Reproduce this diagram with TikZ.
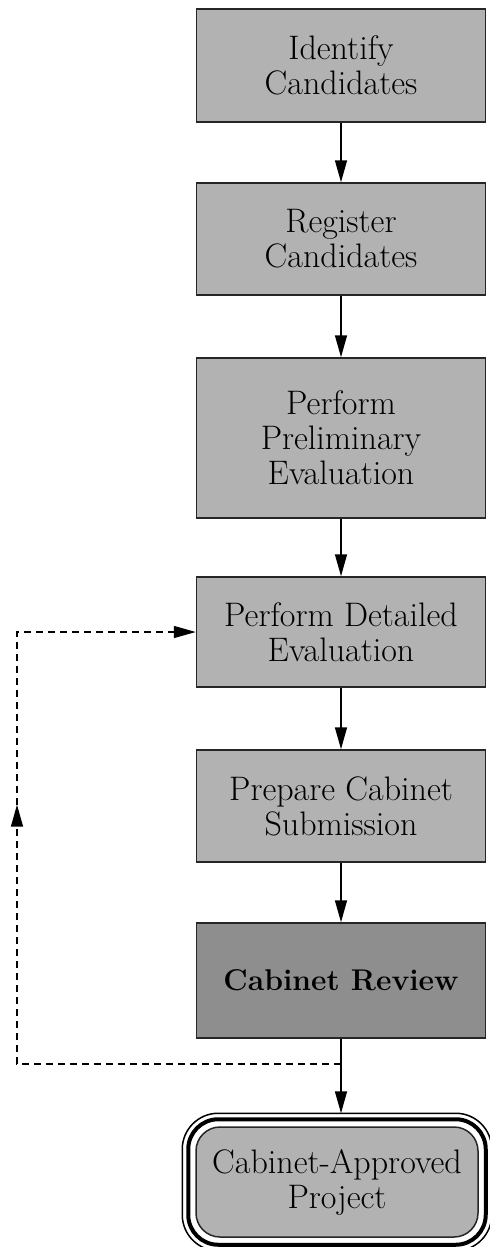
\documentclass[tikz,border=0pt]{standalone}
\usepackage{tikz}
\usetikzlibrary{arrows.meta,calc}
\definecolor{boxfill}{RGB}{178,178,178}
\definecolor{reviewfill}{RGB}{142,142,142}

\begin{document}
\begin{tikzpicture}[x=0.5pt,y=-0.5pt,font=\fontsize{17}{17.5}\selectfont,
    stepbox/.style={draw=black!85,line width=0.75pt,fill=boxfill,
      minimum width=144.5pt,align=center,inner sep=2pt},
    reviewbox/.style={stepbox,fill=reviewfill,
      font=\fontsize{15}{15}\selectfont\bfseries},
    endbox/.style={stepbox,rounded corners=12pt,minimum width=141pt,
      minimum height=55pt},
    flowarrow/.style={line width=0.75pt,-{Triangle[length=11pt,width=6pt]}},
    loopline/.style={line width=0.75pt,dash pattern=on 3.5pt off 2.5pt}]

  \useasboundingbox (0,0) rectangle (489,1247);

  %,  Process steps, 
  \foreach \nm/\st/\y/\h/\txt in {
    ident/stepbox/65.5/56.5pt/{Identify\\Candidates},
    regist/stepbox/239/56pt/{Register\\Candidates},
    prelim/stepbox/438/80pt/{Perform\\Preliminary\\Evaluation},
    detail/stepbox/632/55pt/{Perform Detailed\\Evaluation},
    prep/stepbox/806/56pt/{Prepare Cabinet\\Submission},
    review/reviewbox/980.5/57.5pt/{Cabinet Review}%
  }
  {
    \node[\st,minimum height=\h] (\nm) at (341,\y) {\txt};
  }

  %,  Final result (triple border), 
  \node[endbox] (final) at (337,1182) {Cabinet-Approved\\Project};
  \draw[line width=2pt,rounded corners=15pt]
    ($(final.north west)+(-7,-7)$) rectangle ($(final.south east)+(7,7)$);
  \draw[line width=0.75pt,rounded corners=18pt]
    ($(final.north west)+(-13,-13)$) rectangle ($(final.south east)+(13,13)$);
  \coordinate (finaltop) at ($(final.north)+(0,-13)$);

  %,  Arrows, 
  \foreach \a/\b in {ident/regist,regist/prelim,prelim/detail,
                     detail/prep,prep/review}
    \draw[flowarrow] (\a.south) -- (\b.north);
  \draw[flowarrow] (review.south) -- (review.south |- finaltop);

  %,  Loop back to detailed evaluation, 
  \coordinate (split) at ($(review.south)+(0,25)$);
  \coordinate (loopx) at (17,0);
  \coordinate (loopbot) at (loopx |- split);
  \coordinate (looptop) at (loopx |- detail.west);
  \draw[loopline,-{Triangle[length=11pt,width=6pt]}]
    (split) -- (loopbot) -- ($(loopbot)!0.6!(looptop)$);
  \draw[loopline,-{Triangle[length=11pt,width=6pt]}]
    ($(loopbot)!0.6!(looptop)$) -- (looptop) -- (detail.west);

\end{tikzpicture}
\end{document}
